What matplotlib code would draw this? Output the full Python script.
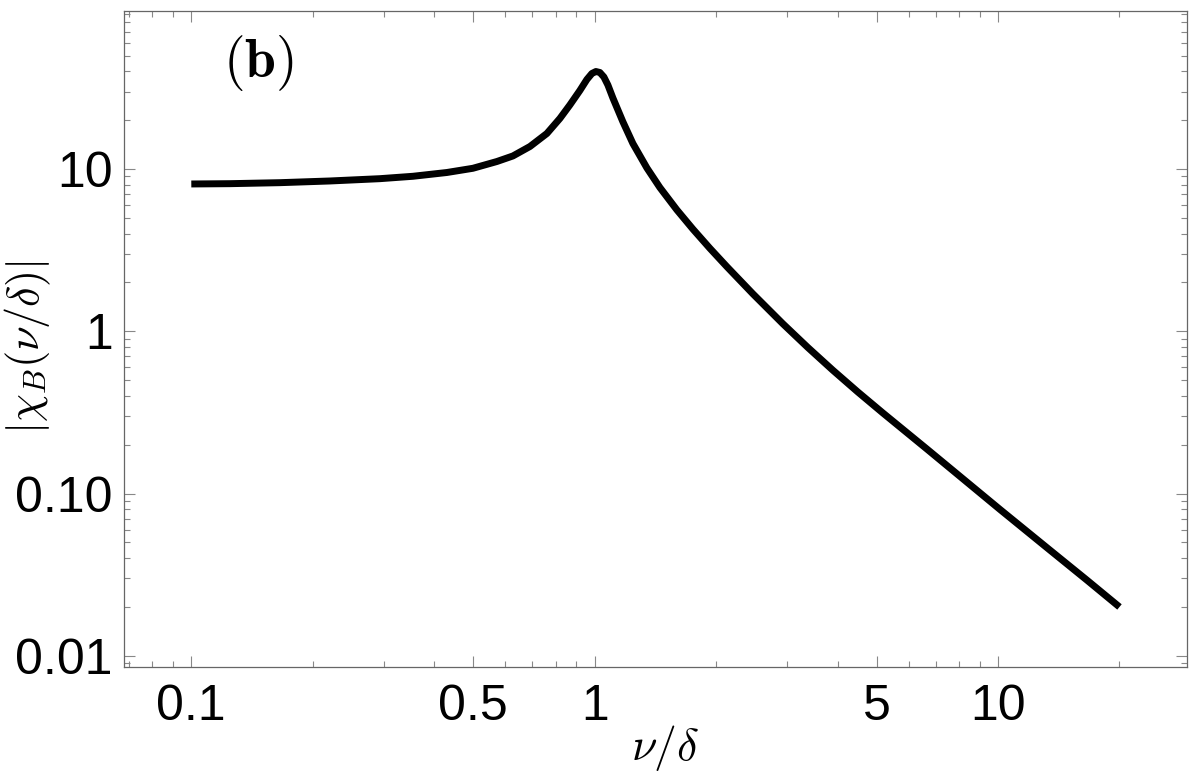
import matplotlib
matplotlib.use('Agg')
import matplotlib.pyplot as plt
from matplotlib.ticker import FixedLocator, NullFormatter

plt.rcParams['mathtext.fontset'] = 'cm'
plt.rcParams['font.family'] = ['Liberation Sans', 'DejaVu Sans']

# curve (nu/delta, |chi_B|)
nu = [0.1, 0.1247, 0.1659, 0.2207, 0.2935, 0.3542, 0.4302, 0.4990, 0.5723,
      0.6270, 0.6911, 0.7613, 0.8199, 0.8679, 0.9190, 0.9565, 0.9842, 1.0069,
      1.0301, 1.0539, 1.0783, 1.1095, 1.1745, 1.2436, 1.3475, 1.4507, 1.5987,
      1.7515, 1.9298, 2.1270, 2.4661, 2.9272, 3.376, 3.8946, 4.491, 5.1814,
      6.659, 7.593, 10.10, 13.43, 16.59, 20.0]
chi = [8.085, 8.119, 8.235, 8.436, 8.716, 9.016, 9.515, 10.10, 11.12,
       12.03, 13.76, 16.55, 20.48, 24.80, 30.46, 35.60, 38.76, 39.87,
       39.31, 36.89, 32.93, 27.39, 19.56, 14.36, 10.14, 7.691, 5.598,
       4.264, 3.246, 2.500, 1.703, 1.113, 0.7947, 0.5754, 0.4227, 0.3138,
       0.1883, 0.1438, 0.0800, 0.04494, 0.02935, 0.02001]

xticks = [0.1, 0.5, 1, 5, 10]
xticklabels = ['0.1', '0.5', '1', '5', '10']
yticks = [0.01, 0.1, 1, 10]
yticklabels = ['0.01', '0.10', '1', '10']

fig = plt.figure(figsize=(11.98, 7.80), dpi=100)
ax = fig.add_axes([0.1035, 0.1449, 0.8873, 0.8414])

ax.plot(nu, chi, color='black', lw=5, solid_joinstyle='round', solid_capstyle='butt')

ax.set_xscale('log')
ax.set_yscale('log')
ax.set_xlim(0.0681, 29.4)
ax.set_ylim(0.00854, 94.5)

ax.xaxis.set_major_locator(FixedLocator(xticks))
ax.set_xticklabels(xticklabels)
ax.yaxis.set_major_locator(FixedLocator(yticks))
ax.set_yticklabels(yticklabels)

xminor = [m * 10.0**e for e in (-2, -1, 0, 1) for m in range(2, 10)]
xminor = [v for v in xminor if v not in xticks]
ax.xaxis.set_minor_locator(FixedLocator(xminor))
ax.xaxis.set_minor_formatter(NullFormatter())
yminor = [m * 10.0**e for e in (-3, -2, -1, 0, 1) for m in range(2, 10)]
ax.yaxis.set_minor_locator(FixedLocator(yminor))
ax.yaxis.set_minor_formatter(NullFormatter())

for s in ax.spines.values():
    s.set_color('#666666')
    s.set_linewidth(0.9)

ax.tick_params(which='both', direction='in', top=True, right=True,
               color='#888888', width=0.8)
ax.tick_params(which='major', length=8, labelsize=36, pad=8)
ax.tick_params(axis='x', which='major', pad=12)
ax.tick_params(which='minor', length=4)

ax.set_xlabel(r'$\nu/\delta$', fontsize=33)
ax.xaxis.set_label_coords(0.509, -0.085)
ax.set_ylabel(r'$|\chi_B(\nu/\delta)|$', fontsize=32)
ax.yaxis.set_label_coords(-0.0668, 0.4876)

ax.text(0.126, 0.92, r'$\mathbf{(b)}$', transform=ax.transAxes,
        fontsize=40, ha='center', va='center')

fig.savefig('out.png', dpi=100)
